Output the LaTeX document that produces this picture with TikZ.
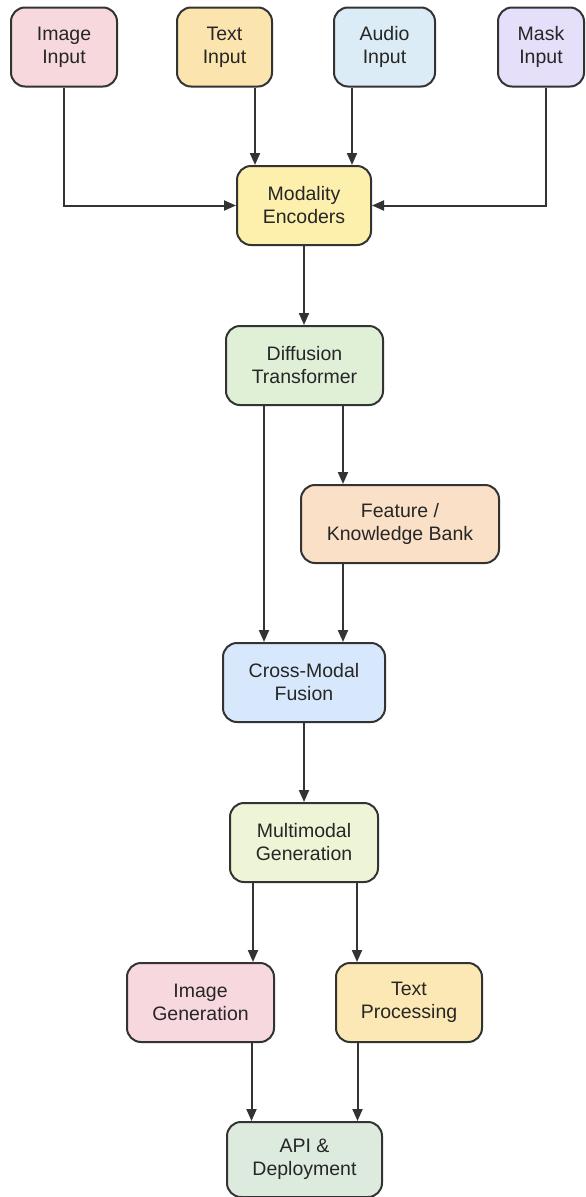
\documentclass[tikz,border=0pt]{standalone}
\usepackage{fontspec}
\setmainfont{Liberation Sans}
\usetikzlibrary{arrows.meta}

\definecolor{cImgIn}{RGB}{247,216,221}
\definecolor{cTxtIn}{RGB}{251,228,174}
\definecolor{cAudIn}{RGB}{219,236,246}
\definecolor{cMskIn}{RGB}{229,223,250}
\definecolor{cEnc}{RGB}{253,240,172}
\definecolor{cDif}{RGB}{223,240,215}
\definecolor{cFeat}{RGB}{250,224,198}
\definecolor{cCross}{RGB}{216,232,252}
\definecolor{cMulti}{RGB}{238,245,215}
\definecolor{cImgGen}{RGB}{248,216,223}
\definecolor{cTxtProc}{RGB}{252,232,180}
\definecolor{cApi}{RGB}{221,235,223}
\definecolor{cLine}{RGB}{51,51,51}

\tikzset{every picture/.style={line width=2pt}}
\tikzset{
  blockbox/.style={draw=cLine, rounded corners=14pt, align=center, inner sep=0pt,
    minimum height=79pt, text=black!85, font=\fontsize{19.5}{23}\selectfont},
  arr/.style={draw=cLine, -{Triangle[length=12pt,width=10pt]}}
}

\begin{document}
\begin{tikzpicture}[x=1pt,y=1pt,yscale=-1,xscale=1]
\useasboundingbox (0,0) rectangle (586,1197);

% Input row
\node [blockbox, fill=cImgIn, minimum width=106pt] (imgin) at (64,47) {Image\\Input};
\node [blockbox, fill=cTxtIn, minimum width=95pt] (txtin) at (224.5,47) {Text\\Input};
\node [blockbox, fill=cAudIn, minimum width=101pt] (audin) at (384.5,47) {Audio\\Input};
\node [blockbox, fill=cMskIn, minimum width=86pt] (mskin) at (541,47) {Mask\\Input};

% Main column
\node [blockbox, fill=cEnc, minimum width=134pt] (enc) at (304,205.5) {Modality\\Encoders};
\node [blockbox, fill=cDif, minimum width=157pt] (dif) at (304.5,365.5) {Diffusion\\Transformer};
\node [blockbox, fill=cFeat, minimum width=198pt, minimum height=78pt] (feat) at (400,524) {Feature /\\Knowledge Bank};
\node [blockbox, fill=cCross, minimum width=162pt] (cross) at (304,682.5) {Cross-Modal\\Fusion};
\node [blockbox, fill=cMulti, minimum width=148pt] (multi) at (304,842.5) {Multimodal\\Generation};

% Output row
\node [blockbox, fill=cImgGen, minimum width=147pt] (imggen) at (200.5,1002.5) {Image\\Generation};
\node [blockbox, fill=cTxtProc, minimum width=146pt] (txtproc) at (409,1002.5) {Text\\Processing};
\node [blockbox, fill=cApi, minimum width=155pt, minimum height=75pt] (api) at (304.5,1159.5) {API \&\\Deployment};

% Inputs to encoders
\draw [arr] (imgin.south) -- (imgin.south |- enc.west) -- (enc.west);
\draw [arr] ([xshift=-49pt]enc.north |- txtin.south) -- ([xshift=-49pt]enc.north);
\draw [arr] ([xshift=48pt]enc.north |- audin.south) -- ([xshift=48pt]enc.north);
\draw [arr] ([xshift=5pt]mskin.south) -- ([xshift=5pt]mskin.south |- enc.east) -- (enc.east);

% Encoders to fusion
\draw [arr] (enc.south) -- (enc.south |- dif.north);
\draw [arr] ([xshift=-40pt]cross.north |- dif.south) -- ([xshift=-40pt]cross.north);
\draw [arr] ([xshift=39pt]cross.north |- dif.south) -- ([xshift=39pt]cross.north |- feat.north);
\draw [arr] ([xshift=39pt]cross.north |- feat.south) -- ([xshift=39pt]cross.north);
\draw [arr] (cross.south) -- (cross.south |- multi.north);

% Generation to deployment
\draw [arr] ([xshift=-51pt]multi.south) -- ([xshift=-51pt]multi.south |- imggen.north);
\draw [arr] ([xshift=53pt]multi.south) -- ([xshift=53pt]multi.south |- txtproc.north);
\draw [arr] ([xshift=-53pt]api.north |- imggen.south) -- ([xshift=-53pt]api.north);
\draw [arr] ([xshift=53pt]api.north |- txtproc.south) -- ([xshift=53pt]api.north);

\end{tikzpicture}
\end{document}
